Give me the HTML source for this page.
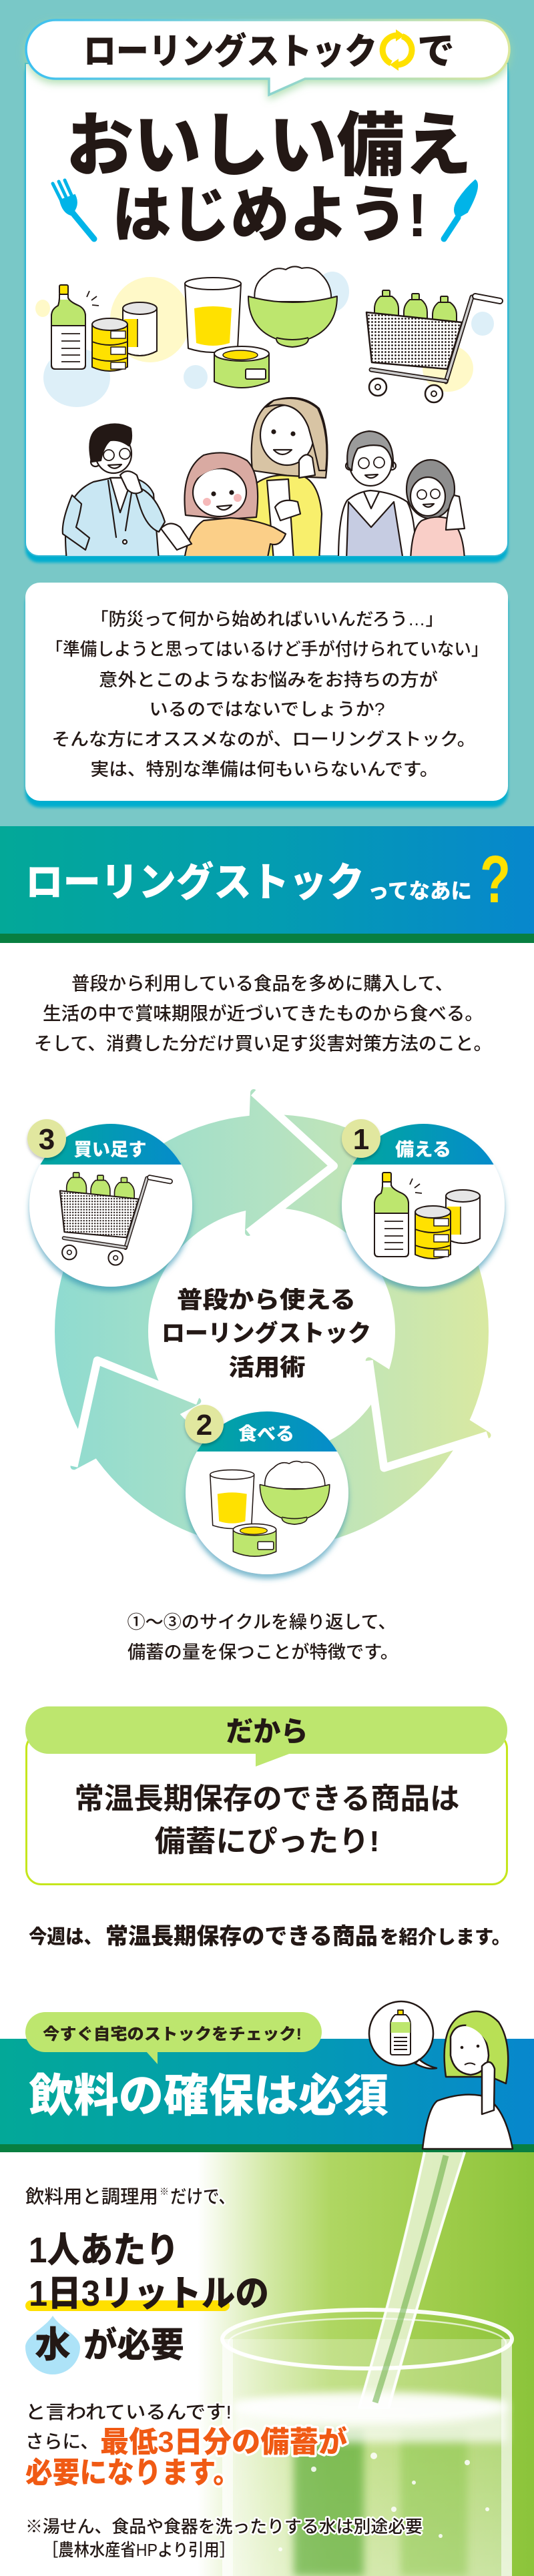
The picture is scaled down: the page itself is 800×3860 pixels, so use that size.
<!DOCTYPE html>
<html lang="ja"><head><meta charset="utf-8">
<style>
html,body{margin:0;padding:0;background:#fff;}
svg{display:block;}
text{font-family:"Liberation Sans","Noto Sans CJK JP",sans-serif;}
.k{fill:#231815;}
.w9{font-weight:900;}
.w7{font-weight:700;}
.w5{font-weight:500;}
.halo{stroke:#fff;stroke-width:5;paint-order:stroke;stroke-linejoin:round;}
</style></head>
<body>
<svg width="800" height="3860" viewBox="0 0 800 3860" xmlns="http://www.w3.org/2000/svg">
<defs>
 <linearGradient id="band" x1="0" x2="1" y1="0" y2="0"><stop offset="0" stop-color="#03a898"/><stop offset="0.5" stop-color="#039db0"/><stop offset="1" stop-color="#0787cd"/></linearGradient>
 <linearGradient id="hg" x1="0" x2="1" y1="0" y2="0"><stop offset="0" stop-color="#00a99b"/><stop offset="1" stop-color="#0689cf"/></linearGradient>
 <linearGradient id="ringG" gradientUnits="userSpaceOnUse" x1="82" y1="0" x2="732" y2="0"><stop offset="0" stop-color="#8fdbd0"/><stop offset="0.5" stop-color="#b3e2c3"/><stop offset="1" stop-color="#d9e9a1"/></linearGradient>
 <linearGradient id="bubG" gradientUnits="userSpaceOnUse" x1="39" x2="763" y1="0" y2="0"><stop offset="0" stop-color="#3cc0f0"/><stop offset="0.6" stop-color="#9ad7c8"/><stop offset="1" stop-color="#dbe79c"/></linearGradient>
 <linearGradient id="waterG" gradientUnits="userSpaceOnUse" x1="0" x2="800" y1="0" y2="0">
  <stop offset="0" stop-color="#ffffff"/><stop offset="0.37" stop-color="#ffffff"/><stop offset="0.5" stop-color="#d3e9a6"/><stop offset="0.62" stop-color="#afd662"/><stop offset="0.85" stop-color="#9ccb48"/><stop offset="1" stop-color="#8bc43a"/></linearGradient>
 <linearGradient id="waterV" x1="0" x2="0" y1="0" y2="1">
  <stop offset="0" stop-color="#ffffff" stop-opacity="0"/><stop offset="1" stop-color="#ffffff" stop-opacity="0.35"/></linearGradient>
 <pattern id="dots" width="5" height="5" patternUnits="userSpaceOnUse"><rect width="5" height="5" fill="#fff"/><circle cx="2.5" cy="2.5" r="1.4" fill="#231815"/></pattern>
 <filter id="sh" x="-20%" y="-20%" width="140%" height="150%"><feDropShadow dx="0" dy="7" stdDeviation="4" flood-color="#2a8fb0" flood-opacity="0.6"/></filter>
 <filter id="bsh" x="-30%" y="-30%" width="160%" height="160%"><feDropShadow dx="0" dy="3" stdDeviation="2" flood-color="#000" flood-opacity="0.25"/></filter>
 <filter id="glow" x="-10%" y="-30%" width="120%" height="180%"><feDropShadow dx="0" dy="5" stdDeviation="6" flood-color="#9fd8a0" flood-opacity="0.8"/></filter>
 <filter id="bl2"><feGaussianBlur stdDeviation="2"/></filter>
 <filter id="bl6" x="-20%" y="-20%" width="140%" height="140%"><feGaussianBlur stdDeviation="6"/></filter>
 <clipPath id="card1"><path d="M38 95 H761 V813 A20 20 0 0 1 741 833 H58 A20 20 0 0 1 38 813 Z"/></clipPath>
 <clipPath id="c3"><circle cx="166" cy="1806" r="122"/></clipPath>
 <clipPath id="c1"><circle cx="634" cy="1806" r="122"/></clipPath>
 <clipPath id="c2"><circle cx="400" cy="2237" r="122"/></clipPath>

 <g id="bottleSet" stroke="#231815" stroke-width="2" stroke-linejoin="round">
  <path d="M89 441 L102 441 L102 446 Q104 452 118 458 Q128 463 128 474 L128 547 Q128 553 122 553 L83 553 Q77 553 77 547 L77 474 Q77 463 87 458 Q89 452 89 446 Z" fill="#fff"/>
  <path d="M77 474 Q77 463 87 458 Q89 452 89 449 L102 449 Q104 452 118 458 Q128 463 128 474 L128 488 L77 488 Z" fill="#bde66e" stroke="none"/>
  <path d="M89 441 L102 441 L102 446 Q104 452 118 458 Q128 463 128 474 L128 547 Q128 553 122 553 L83 553 Q77 553 77 547 L77 474 Q77 463 87 458 Q89 452 89 446 Z" fill="none"/>
  <line x1="77" y1="488" x2="128" y2="488"/>
  <rect x="89" y="427" width="13" height="14" rx="2" fill="#ffe100"/>
  <g stroke-width="1.8"><line x1="92" y1="500" x2="120" y2="500"/><line x1="92" y1="511" x2="120" y2="511"/><line x1="92" y1="522" x2="120" y2="522"/><line x1="92" y1="532" x2="120" y2="532"/><line x1="92" y1="542" x2="120" y2="542"/></g>
  <g stroke-width="1.8"><line x1="130" y1="445" x2="134" y2="436"/><line x1="137" y1="450" x2="145" y2="444"/><line x1="138" y1="457" x2="148" y2="458"/></g>
  <path d="M184 462 V526 Q209.5 540 235 526 V462" fill="#fff"/>
  <rect x="186" y="478" width="20" height="42" fill="#ffe100" stroke="none"/>
  <path d="M184 462 V526 Q209.5 540 235 526 V462" fill="none"/>
  <line x1="206" y1="478" x2="206" y2="520" stroke-width="1.5"/>
  <ellipse cx="209.5" cy="462" rx="25.5" ry="9" fill="#e6e6e6"/>
  <path d="M138 486 V550 Q164.5 562 191 550 V486" fill="#ffe100"/>
  <path d="M138 512 Q164.5 522 191 512 M138 536 Q164.5 546 191 536" fill="none"/>
  <ellipse cx="164.5" cy="486" rx="26.5" ry="9" fill="#e6e6e6"/>
  <g stroke-width="1.5" fill="#fff"><rect x="166" y="496" width="22" height="11"/><rect x="166" y="520" width="22" height="11"/><rect x="166" y="543" width="22" height="10"/></g>
 </g>

 <g id="cart" stroke="#231815" stroke-width="2" stroke-linejoin="round">
  <g fill="#bde66e">
   <rect x="573" y="435" width="11" height="9" rx="1.5"/>
   <path d="M570 444 L587 444 Q597 451 597 463 L597 490 L561 490 L561 463 Q561 451 570 444 Z"/>
   <rect x="617" y="440" width="11" height="9" rx="1.5"/>
   <path d="M614 449 L631 449 Q640 456 640 468 L640 492 L605 492 L605 468 Q605 456 614 449 Z"/>
   <rect x="660" y="444" width="11" height="9" rx="1.5"/>
   <path d="M657 453 L674 453 Q684 460 684 472 L684 494 L648 494 L648 472 Q648 460 657 453 Z"/>
  </g>
  <path d="M549 468 L692 483 L670 553 L557 543 Z" fill="url(#dots)" stroke-width="2.5"/>
  <line x1="668" y1="572" x2="707" y2="445" stroke-width="7" stroke-linecap="round"/>
  <line x1="668" y1="572" x2="707" y2="445" stroke="#cdcdcd" stroke-width="3.5" stroke-linecap="round"/>
  <line x1="556" y1="554" x2="668" y2="571" stroke-width="7" stroke-linecap="round"/>
  <line x1="556" y1="554" x2="668" y2="571" stroke="#cdcdcd" stroke-width="3.5" stroke-linecap="round"/>
  <line x1="712" y1="444" x2="749" y2="451" stroke-width="10" stroke-linecap="round"/>
  <line x1="712" y1="444" x2="749" y2="451" stroke="#fff" stroke-width="6" stroke-linecap="round"/>
  <circle cx="566" cy="580" r="13" fill="#fff" stroke-width="2.5"/><circle cx="566" cy="580" r="4" fill="#fff"/>
  <circle cx="650" cy="590" r="13" fill="#fff" stroke-width="2.5"/><circle cx="650" cy="590" r="4" fill="#fff"/>
 </g>

 <g id="food" stroke="#231815" stroke-width="2" stroke-linejoin="round">
  <path d="M277 425 L282 522 Q319 534 356 522 L361 425 Z" fill="#fff"/>
  <path d="M291 462 Q319 456 347 462 L344 514 Q319 522 294 514 Z" fill="#ffe100" stroke="none"/>
  <ellipse cx="319" cy="425" rx="42" ry="9" fill="#fff"/>
  <path d="M382 452 Q378 425 398 412 Q412 398 428 404 Q440 396 452 402 Q470 398 482 412 Q498 428 496 452 Z" fill="#fff"/>
  <path d="M372 444 Q438 462 505 444 Q505 492 462 508 Q462 518 438 520 Q414 518 414 508 Q372 492 372 444 Z" fill="#bde66e"/>
  <path d="M414 506 Q438 512 462 506" fill="none"/>
  <path d="M321 530 V572 Q362 590 403 572 V530" fill="#bde66e"/>
  <ellipse cx="362" cy="530" rx="41" ry="11" fill="#fff"/>
  <ellipse cx="360" cy="532" rx="26" ry="7" fill="#ffe100" stroke-width="1.5"/>
  <rect x="368" y="553" width="30" height="15" rx="2" fill="#fff"/>
 </g>
</defs>

<rect x="0" y="0" width="800" height="1238" fill="#79c8c7"/>
<rect x="0" y="1238" width="800" height="161" fill="url(#band)"/>
<rect x="0" y="1399" width="800" height="14" fill="#087f41"/>
<rect x="0" y="3055" width="800" height="158" fill="url(#band)"/>
<rect x="0" y="3213" width="800" height="12" fill="#087f41"/>
<rect x="0" y="3225" width="800" height="635" fill="url(#waterG)"/>

<path d="M38 95 H761 V813 A20 20 0 0 1 741 833 H58 A20 20 0 0 1 38 813 Z" fill="#00adcf" transform="translate(0,10)" filter="url(#bl2)"/>
<path d="M38 95 H761 V813 A20 20 0 0 1 741 833 H58 A20 20 0 0 1 38 813 Z" fill="#fff" stroke="#2fb6d4" stroke-width="2"/>

<path d="M83 30 H719 A44 44 0 0 1 763 74 A44 44 0 0 1 719 118 H457 L403 142 V118 H83 A44 44 0 0 1 39 74 A44 44 0 0 1 83 30 Z" fill="#fff" stroke="url(#bubG)" stroke-width="3.5" filter="url(#glow)"/>
<text x="125" y="95.5" font-size="54" textLength="440" lengthAdjust="spacingAndGlyphs" class="k w9">ローリングストック</text>
<g fill="none" stroke="#ffe100" stroke-width="9">
 <path d="M602.5 54.3 A22 22 0 0 1 593.1 96.9"/>
 <path d="M585.7 94.9 A22 22 0 0 1 596.9 53.1"/>
</g>
<polygon points="584,97 597,88 597,106" fill="#ffe100"/>
<polygon points="606,53 593,44 593,62" fill="#ffe100"/>
<text x="625" y="96" font-size="56" class="k w9">で</text>

<text x="99" y="254" font-size="104" textLength="608" lengthAdjust="spacingAndGlyphs" class="k w9">おいしい備え</text>
<text x="168" y="354" font-size="92" textLength="472" lengthAdjust="spacingAndGlyphs" class="k w9">はじめよう!</text>

<g stroke="#00b4e8" stroke-linecap="round" fill="#00b4e8">
 <line x1="79" y1="275" x2="94" y2="305" stroke-width="5"/>
 <line x1="88" y1="272" x2="102" y2="302" stroke-width="5"/>
 <line x1="97" y1="270" x2="110" y2="299" stroke-width="5"/>
 <path d="M90 300 L112 292 Q120 308 106 322 Q94 318 90 300 Z" stroke-width="2"/>
 <line x1="108" y1="318" x2="141" y2="358" stroke-width="9"/>
 <path d="M712 270 Q722 278 700 318 L686 326 Q676 316 686 300 Q698 282 712 270 Z" stroke-width="2"/>
 <line x1="686" y1="326" x2="665" y2="358" stroke-width="9"/>
</g>

<g>
 <ellipse cx="225" cy="479" rx="60" ry="64" fill="#fff9c8"/>
 <ellipse cx="64" cy="462" rx="11" ry="13" fill="#fff9c8"/>
 <ellipse cx="115" cy="566" rx="50" ry="44" fill="#ddeff8"/>
 <ellipse cx="293" cy="565" rx="18" ry="18" fill="#ddeff8"/>
 <ellipse cx="498" cy="437" rx="25" ry="30" fill="#ddeff8"/>
 <ellipse cx="723" cy="485" rx="17" ry="18" fill="#ddeff8"/>
 <ellipse cx="671" cy="552" rx="38" ry="35" fill="#fff9c8"/>
</g>
<use href="#bottleSet"/>
<use href="#food"/>
<use href="#cart"/>

<!-- people -->
<g clip-path="url(#card1)" stroke="#231815" stroke-width="2.2" stroke-linejoin="round" stroke-linecap="round">
 <!-- man -->
 <path d="M100 840 Q96 800 100 770 Q110 735 140 722 L168 716 L200 716 Q222 722 230 740 L238 840 Z" fill="#c9e7f3"/>
 <path d="M108 742 Q92 780 94 800 L128 824 L134 806 L114 790 Q120 770 122 755 Z" fill="#c9e7f3"/>
 <path d="M165 716 L180 768 L198 716 Z" fill="#fff"/>
 <path d="M162 720 L174 805 M200 720 L188 795" fill="none"/>
 <circle cx="187" cy="812" r="3" fill="#fff"/>
 <path d="M200 728 Q232 735 247 782 L238 797 Q220 790 210 760 Z" fill="#c9e7f3"/>
 <circle cx="143" cy="692" r="7" fill="#fff"/>
 <ellipse cx="170" cy="680" rx="27" ry="29" fill="#fff"/>
 <path d="M137 692 Q128 650 150 640 Q175 630 196 642 Q199 660 193 668 Q180 658 165 660 Q155 668 151 690 Z" fill="#231815"/>
 <circle cx="163" cy="682" r="8" fill="none" stroke-width="1.8"/><circle cx="187" cy="680" r="8" fill="none" stroke-width="1.8"/>
 <path d="M162 697 Q172 707 182 696 Z" fill="#fff"/>
 <path d="M180 712 Q190 700 205 712 L213 736 Q201 744 190 733 Z" fill="#fff"/>
 <!-- mother -->
 <path d="M378 705 Q370 620 410 600 Q452 588 478 612 Q496 650 488 716 L440 714 Z" fill="#d8c4a4"/>
 <path d="M366 840 Q362 770 372 735 Q390 714 420 712 L455 714 Q478 725 482 770 L478 840 Z" fill="#f8ef6c"/>
 <path d="M400 720 L410 840 L440 840 L432 718 Z" fill="#fff"/>
 <ellipse cx="430" cy="652" rx="40" ry="45" fill="#fff"/>
 <path d="M398 610 Q445 596 462 640 Q472 675 478 705 L488 705 Q494 650 476 612 Q450 590 410 600 Z" fill="#d8c4a4"/>
 <circle cx="410" cy="647" r="2.5" fill="#231815"/><circle cx="439" cy="650" r="2.5" fill="#231815"/>
 <path d="M410 674 Q423 688 437 674 Z" fill="#fff"/>
 <path d="M448 690 Q458 675 468 686 L472 712 L448 716 Z" fill="#fff"/>
 <path d="M412 760 Q422 745 446 752 L450 770 L420 780 Z" fill="#fff"/>
 <!-- child -->
 <path d="M278 772 Q270 705 305 682 Q340 672 370 690 Q392 712 384 775 L340 778 Z" fill="#d9aaa2"/>
 <path d="M276 840 Q282 795 305 780 L345 776 Q380 778 410 790 L428 800 Q420 820 405 815 L400 840 Z" fill="#fbcf88"/>
 <ellipse cx="329" cy="738" rx="40" ry="36" fill="#fff"/>
 <path d="M296 716 Q330 690 372 710 L372 698 Q345 678 300 696 Z" fill="#d9aaa2" stroke="none"/>
 <circle cx="310" cy="752" r="6" fill="#f6b9b9" stroke="none"/><circle cx="356" cy="746" r="6" fill="#f6b9b9" stroke="none"/>
 <circle cx="320" cy="740" r="2.5" fill="#231815"/><circle cx="347" cy="738" r="2.5" fill="#231815"/>
 <path d="M325 759 Q336 770 347 757 Z" fill="#fff"/>
 <path d="M241 792 Q255 778 270 790 L287 815 L265 824 Z" fill="#fff"/>
 <!-- grandpa -->
 <path d="M507 840 Q507 770 520 750 Q535 737 555 735 Q590 738 610 752 Q623 775 623 840 Z" fill="#fff"/>
 <path d="M519 840 L522 752 L556 790 L590 752 L604 840 Z" fill="#c6cce2"/>
 <path d="M545 737 L556 762 L568 737" fill="none"/>
 <circle cx="524" cy="698" r="6" fill="#fff"/><circle cx="587" cy="698" r="6" fill="#fff"/>
 <ellipse cx="555" cy="692" rx="32" ry="36" fill="#fff"/>
 <path d="M521 700 Q515 650 553 646 Q591 648 589 700 Q585 672 570 668 Q553 665 536 672 Q528 685 527 705 Z" fill="#9b9b9b"/>
 <circle cx="545" cy="694" r="8" fill="none" stroke-width="1.8"/><circle cx="568" cy="693" r="8" fill="none" stroke-width="1.8"/>
 <path d="M547 712 Q556 721 566 711 Z" fill="#fff"/>
 <!-- grandma -->
 <ellipse cx="645" cy="733" rx="36" ry="44" fill="#8e8e8e"/>
 <path d="M615 840 Q617 790 632 780 Q650 772 668 776 Q694 786 696 840 Z" fill="#f9cec7"/>
 <ellipse cx="641" cy="744" rx="26" ry="29" fill="#fff"/>
 <circle cx="632" cy="741" r="7" fill="none" stroke-width="1.8"/><circle cx="652" cy="740" r="7" fill="none" stroke-width="1.8"/>
 <path d="M634 756 Q642 764 650 755 Z" fill="#fff"/>
 <path d="M668 794 Q670 760 680 742 L688 744 L696 792 Z" fill="#fff"/>
</g>

<rect x="38" y="883" width="723" height="327" rx="22" fill="#00adcf" filter="url(#bl2)"/>
<rect x="38" y="873" width="723" height="327" rx="22" fill="#fff"/>
<g class="k w5" font-size="26.5" text-anchor="middle">
 <text x="400" y="937" textLength="528" lengthAdjust="spacingAndGlyphs">「防災って何から始めればいいんだろう…」</text>
 <text x="400" y="982" textLength="663" lengthAdjust="spacingAndGlyphs">「準備しようと思ってはいるけど手が付けられていない」</text>
 <text x="402" y="1028" textLength="508" lengthAdjust="spacingAndGlyphs">意外とこのようなお悩みをお持ちの方が</text>
 <text x="400" y="1072" textLength="353" lengthAdjust="spacingAndGlyphs">いるのではないでしょうか?</text>
 <text x="395" y="1117" textLength="635" lengthAdjust="spacingAndGlyphs">そんな方にオススメなのが、ローリングストック。</text>
 <text x="396" y="1162" textLength="521" lengthAdjust="spacingAndGlyphs">実は、特別な準備は何もいらないんです。</text>
</g>

<text x="38" y="1343" font-size="60" textLength="508" lengthAdjust="spacingAndGlyphs" fill="#fff" class="w9">ローリングストック</text>
<text x="551" y="1346" font-size="32" textLength="156" lengthAdjust="spacingAndGlyphs" fill="#fff" class="w9">ってなあに</text>
<text x="719" y="1352" font-size="100" textLength="46" lengthAdjust="spacingAndGlyphs" fill="#ffe100" font-weight="bold" style="font-family:'Liberation Sans',sans-serif">?</text>

<g class="k w5" font-size="27.5" text-anchor="middle">
 <text x="393" y="1483" textLength="572" lengthAdjust="spacingAndGlyphs">普段から利用している食品を多めに購入して、</text>
 <text x="394" y="1528" textLength="660" lengthAdjust="spacingAndGlyphs">生活の中で賞味期限が近づいてきたものから食べる。</text>
 <text x="394" y="1573" textLength="686" lengthAdjust="spacingAndGlyphs">そして、消費した分だけ買い足す災害対策方法のこと。</text>
</g>

<path d="M82 1995 A325 325 0 1 0 732 1995 A325 325 0 1 0 82 1995 Z M222 1995 A185 185 0 1 1 592 1995 A185 185 0 1 1 222 1995 Z" fill="url(#ringG)" fill-rule="evenodd"/>
<g fill="url(#ringG)" stroke="url(#ringG)" stroke-width="10" stroke-linejoin="round">
 <polygon points="380,1637 500,1747 372,1847"/>
 <polygon points="730.5,2150.6 575.3,2199.5 552.7,2038.7"/>
 <polygon points="110.5,2197.4 145.7,2038.5 296.3,2099.3"/>
</g>
<g fill="none" stroke="#fff" stroke-width="12" stroke-linejoin="round">
 <path d="M380 1637 L500 1747 L372 1847"/>
 <path d="M730.5 2150.6 L575.3 2199.5 L552.7 2038.7"/>
 <path d="M110.5 2197.4 L145.7 2038.5 L296.3 2099.3"/>
</g>
<g class="k w9" font-size="35" text-anchor="middle">
 <text x="399" y="1960" textLength="268" lengthAdjust="spacingAndGlyphs">普段から使える</text>
 <text x="399" y="2010" textLength="314" lengthAdjust="spacingAndGlyphs">ローリングストック</text>
 <text x="400" y="2061" textLength="115" lengthAdjust="spacingAndGlyphs">活用術</text>
</g>

<circle cx="166" cy="1806" r="122" fill="#fff" filter="url(#sh)"/>
<rect x="40" y="1680" width="252" height="65" fill="url(#hg)" clip-path="url(#c3)"/>
<use href="#cart" transform="translate(89,1757) scale(0.825) translate(-548,-435)"/>
<circle cx="634" cy="1806" r="122" fill="#fff" filter="url(#sh)"/>
<rect x="508" y="1680" width="252" height="65" fill="url(#hg)" clip-path="url(#c1)"/>
<use href="#bottleSet" transform="translate(484,1330)"/>
<circle cx="400" cy="2237" r="122" fill="#fff" filter="url(#sh)"/>
<rect x="274" y="2110" width="252" height="65" fill="url(#hg)" clip-path="url(#c2)"/>
<use href="#food" transform="translate(314,2190) scale(0.785) translate(-276,-400)"/>

<g fill="#fff" class="w9" font-size="27" text-anchor="middle">
 <text x="165" y="1732" textLength="109" lengthAdjust="spacingAndGlyphs">買い足す</text>
 <text x="634" y="1732" textLength="84" lengthAdjust="spacingAndGlyphs">備える</text>
 <text x="399" y="2158" textLength="84" lengthAdjust="spacingAndGlyphs">食べる</text>
</g>
<g fill="#e1e79f" filter="url(#bsh)">
 <circle cx="70" cy="1706" r="29"/><circle cx="541" cy="1706" r="29"/><circle cx="306" cy="2134" r="29"/>
</g>
<g class="k" font-size="44" font-weight="bold" text-anchor="middle" style="font-family:'Liberation Sans',sans-serif">
 <text x="70" y="1722">3</text><text x="541" y="1722">1</text><text x="306" y="2150">2</text>
</g>

<g class="k w5" font-size="27" text-anchor="middle">
 <text x="392" y="2440" textLength="403" lengthAdjust="spacingAndGlyphs">①〜③のサイクルを繰り返して、</text>
 <text x="394" y="2485" textLength="406" lengthAdjust="spacingAndGlyphs">備蓄の量を保つことが特徴です。</text>
</g>

<rect x="39.5" y="2598" width="720" height="225.5" rx="22" fill="#fff" stroke="#c5e61c" stroke-width="3"/>
<rect x="38" y="2557" width="722" height="71" rx="35" fill="#bde66e"/>
<path d="M383 2627 L383 2647 L436 2627 Z" fill="#bde66e"/>
<text x="400" y="2609" font-size="42" text-anchor="middle" textLength="123" lengthAdjust="spacingAndGlyphs" class="k w9">だから</text>
<text x="400" y="2710" font-size="44" text-anchor="middle" textLength="577" lengthAdjust="spacingAndGlyphs" class="k w7">常温長期保存のできる商品は</text>
<text x="400" y="2774" font-size="44" text-anchor="middle" textLength="337" lengthAdjust="spacingAndGlyphs" class="k w7">備蓄にぴったり!</text>

<text x="43" y="2912" font-size="29" textLength="110" lengthAdjust="spacingAndGlyphs" class="k w9">今週は、</text>
<text x="158" y="2913" font-size="34" textLength="408" lengthAdjust="spacingAndGlyphs" class="k w9">常温長期保存のできる商品</text>
<text x="569" y="2912" font-size="28" textLength="196" lengthAdjust="spacingAndGlyphs" class="k w9">を紹介します。</text>

<rect x="38" y="3015" width="444" height="60" rx="30" fill="#bde66e"/>
<path d="M219 3074 L236 3093 L236 3074 Z" fill="#bde66e"/>
<text x="64" y="3056" font-size="24" textLength="388" lengthAdjust="spacingAndGlyphs" fill="#2a2016" class="w9">今すぐ自宅のストックをチェック!</text>
<text x="43" y="3164" font-size="68" textLength="539" lengthAdjust="spacingAndGlyphs" fill="#fff" class="w9">飲料の確保は必須</text>

<g stroke="#231815" stroke-width="2.5" stroke-linejoin="round">
 <ellipse cx="601" cy="3047" rx="48" ry="48" fill="#fff"/>
 <path d="M628 3086 Q640 3096 654 3099 Q640 3102 622 3092 Z" fill="#fff"/>
 <rect x="596" y="3012" width="8" height="7" fill="#ffe100" stroke-width="1.8"/>
 <path d="M592 3019 L608 3019 Q615 3025 615 3034 L615 3076 Q615 3079 612 3079 L588 3079 Q585 3079 585 3076 L585 3034 Q585 3025 592 3019 Z" fill="#fff" stroke-width="2"/>
 <rect x="585.5" y="3030" width="29" height="16" fill="#bde66e" stroke="none"/>
 <g stroke-width="2"><line x1="590" y1="3053" x2="610" y2="3053"/><line x1="590" y1="3059" x2="610" y2="3059"/><line x1="590" y1="3065" x2="610" y2="3065"/><line x1="590" y1="3071" x2="610" y2="3071"/></g>
 <path d="M633 3220 Q640 3160 655 3148 Q690 3135 720 3140 Q755 3150 768 3220 Z" fill="#fff"/>
 <path d="M668 3112 Q658 3040 690 3020 Q722 3004 747 3030 Q768 3062 758 3122 L735 3112 Z" fill="#b8e055"/>
 <path d="M675 3052 Q682 3030 706 3036 Q730 3046 732 3080 Q730 3106 705 3109 Q680 3106 675 3080 Z" fill="#fff"/>
 <path d="M698 3036 Q720 3040 735 3070 L740 3040 Q725 3022 700 3030 Z" fill="#b8e055" stroke="none"/>
 <circle cx="692" cy="3068" r="2.3" fill="#231815" stroke="none"/><circle cx="716" cy="3066" r="2.3" fill="#231815" stroke="none"/>
 <path d="M696 3094 Q704 3089 712 3094" fill="none" stroke-width="2"/>
 <path d="M722 3096 Q735 3082 741 3100 L740 3162 L722 3168 Z" fill="#fff"/>
</g>

<!-- water section -->
<rect x="333" y="3505" width="434" height="355" fill="#fff" opacity="0.25"/>
<rect x="333" y="3600" width="434" height="260" fill="url(#waterV)"/>
<rect x="440" y="3640" width="105" height="220" fill="#4fa42c" opacity="0.6" filter="url(#bl6)"/>
<rect x="600" y="3640" width="100" height="220" fill="#7cbf3a" opacity="0.4" filter="url(#bl6)"/>
<rect x="333" y="3505" width="16" height="355" fill="#fff" opacity="0.6"/>
<rect x="751" y="3505" width="16" height="355" fill="#fff" opacity="0.6"/>
<rect x="350" y="3596" width="410" height="64" fill="#fff" opacity="0.7" filter="url(#bl6)"/>
<ellipse cx="555" cy="3608" rx="205" ry="24" fill="#fff" opacity="0.9" filter="url(#bl6)"/>
<ellipse cx="550" cy="3505" rx="217" ry="44" fill="none" stroke="#fff" stroke-width="6" opacity="0.95"/>
<ellipse cx="550" cy="3511" rx="208" ry="37" fill="none" stroke="#fff" stroke-width="2.5" opacity="0.7"/>
<path d="M634 3225 L698 3225 Q642 3400 584 3610 L536 3610 Q598 3400 634 3225 Z" fill="#fff" opacity="0.65"/>
<path d="M636 3225 Q598 3400 538 3608" fill="none" stroke="#fff" stroke-width="4" opacity="0.9"/>
<path d="M696 3225 Q640 3400 582 3608" fill="none" stroke="#fff" stroke-width="4" opacity="0.9"/>
<path d="M668 3230 Q625 3400 562 3600" fill="none" stroke="#5aa631" stroke-width="9" opacity="0.5"/>
<g fill="#fff" opacity="0.85">
 <circle cx="470" cy="3700" r="4"/><circle cx="620" cy="3720" r="3"/><circle cx="700" cy="3690" r="4"/><circle cx="520" cy="3780" r="3"/><circle cx="660" cy="3800" r="3"/><circle cx="420" cy="3820" r="3"/><circle cx="730" cy="3760" r="3"/><circle cx="560" cy="3680" r="5"/><circle cx="590" cy="3760" r="4"/>
</g>

<rect x="38" y="3447" width="306" height="16" rx="8" fill="#ffe000"/>
<path d="M79 3470 C90 3488 120 3500 120 3517 A41 41 0 0 1 38 3517 C38 3500 68 3488 79 3470 Z" fill="#ade3f8"/>

<g class="k">
 <text x="38" y="3301" font-size="28" textLength="199" lengthAdjust="spacingAndGlyphs" class="w5 halo">飲料用と調理用</text>
 <text x="239" y="3289" font-size="14" class="w5">※</text>
 <text x="255" y="3301" font-size="28" textLength="97" lengthAdjust="spacingAndGlyphs" class="w5 halo">だけで、</text>
 <text x="43" y="3390" font-size="54" textLength="225" lengthAdjust="spacingAndGlyphs" class="w9">1人あたり</text>
 <text x="43" y="3455" font-size="54" textLength="360" lengthAdjust="spacingAndGlyphs" class="w9">1日3リットルの</text>
 <text x="79" y="3532" font-size="54" text-anchor="middle" class="w9">水</text>
 <text x="125" y="3532" font-size="52" textLength="151" lengthAdjust="spacingAndGlyphs" class="w9">が必要</text>
 <text x="38" y="3624" font-size="28" textLength="309" lengthAdjust="spacingAndGlyphs" class="w5 halo">と言われているんです!</text>
 <text x="38" y="3668" font-size="28" textLength="110" lengthAdjust="spacingAndGlyphs" class="w5 halo">さらに、</text>
 <text x="38" y="3795" font-size="26" textLength="595" lengthAdjust="spacingAndGlyphs" class="w5 halo">※湯せん、食品や食器を洗ったりする水は別途必要</text>
 <text x="64" y="3830" font-size="26" textLength="288" lengthAdjust="spacingAndGlyphs" class="w5 halo">［農林水産省HPより引用］</text>
</g>
<g fill="#f05a14" class="w9 halo" style="stroke-width:7">
 <text x="150" y="3674" font-size="44" textLength="370" lengthAdjust="spacingAndGlyphs">最低3日分の備蓄が</text>
 <text x="38" y="3720" font-size="44" textLength="322" lengthAdjust="spacingAndGlyphs">必要になります。</text>
</g>
</svg>
</body></html>
